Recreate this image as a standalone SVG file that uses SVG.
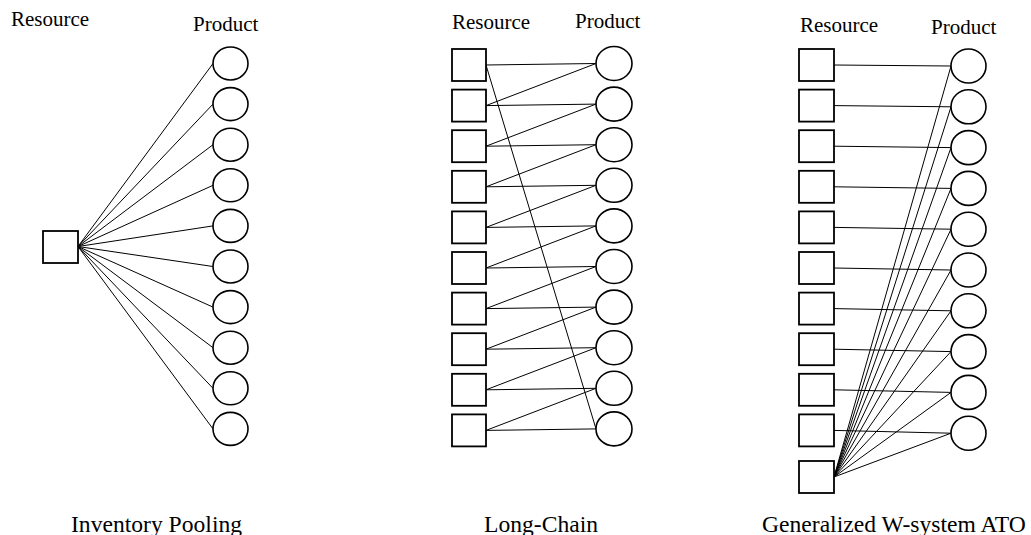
<svg xmlns="http://www.w3.org/2000/svg" width="1031" height="535" viewBox="0 0 1031 535">
  <style>
    .bg { fill: #ffffff; }
    .res { fill: #ffffff; stroke: #000000; stroke-width: 1.8; }
    .prod { fill: #ffffff; stroke: #000000; stroke-width: 1.6; }
    .edge { stroke: #000000; stroke-width: 1; fill: none; }
    .head { font-family: "Liberation Serif", "Times New Roman", serif; font-size: 21px; fill: #000000; }
    .title { font-family: "Liberation Serif", "Times New Roman", serif; font-size: 23.6px; fill: #000000; }
  </style>
  <rect class="bg" x="0" y="0" width="1031" height="535"/>

  <!-- Panel 1: Inventory Pooling -->
  <g id="pooling">
    <g id="pooling-connectors">
      <line class="edge" x1="78" y1="246.5" x2="213" y2="63.5"/>
      <line class="edge" x1="78" y1="246.5" x2="213" y2="104.1"/>
      <line class="edge" x1="78" y1="246.5" x2="213" y2="144.7"/>
      <line class="edge" x1="78" y1="246.5" x2="213" y2="185.3"/>
      <line class="edge" x1="78" y1="246.5" x2="213" y2="225.9"/>
      <line class="edge" x1="78" y1="246.5" x2="213" y2="266.5"/>
      <line class="edge" x1="78" y1="246.5" x2="213" y2="307.1"/>
      <line class="edge" x1="78" y1="246.5" x2="213" y2="347.7"/>
      <line class="edge" x1="78" y1="246.5" x2="213" y2="388.3"/>
      <line class="edge" x1="78" y1="246.5" x2="213" y2="428.9"/>
    </g>
    <g id="pooling-resource"><rect class="res" x="43" y="231" width="35" height="32"/></g>
    <g id="pooling-p1"><ellipse class="prod" cx="230.5" cy="63.5" rx="17.5" ry="16.5"/></g>
    <g id="pooling-p2"><ellipse class="prod" cx="230.5" cy="104.1" rx="17.5" ry="16.5"/></g>
    <g id="pooling-p3"><ellipse class="prod" cx="230.5" cy="144.7" rx="17.5" ry="16.5"/></g>
    <g id="pooling-p4"><ellipse class="prod" cx="230.5" cy="185.3" rx="17.5" ry="16.5"/></g>
    <g id="pooling-p5"><ellipse class="prod" cx="230.5" cy="225.9" rx="17.5" ry="16.5"/></g>
    <g id="pooling-p6"><ellipse class="prod" cx="230.5" cy="266.5" rx="17.5" ry="16.5"/></g>
    <g id="pooling-p7"><ellipse class="prod" cx="230.5" cy="307.1" rx="17.5" ry="16.5"/></g>
    <g id="pooling-p8"><ellipse class="prod" cx="230.5" cy="347.7" rx="17.5" ry="16.5"/></g>
    <g id="pooling-p9"><ellipse class="prod" cx="230.5" cy="388.3" rx="17.5" ry="16.5"/></g>
    <g id="pooling-p10"><ellipse class="prod" cx="230.5" cy="428.9" rx="17.5" ry="16.5"/></g>
    <text class="head" x="11" y="26">Resource</text>
    <text class="head" x="193" y="31">Product</text>
    <text class="title" x="71" y="532">Inventory Pooling</text>
  </g>

  <!-- Panel 2: Long-Chain -->
  <g id="longchain">
    <g id="longchain-connectors">
      <!-- resource k to product k -->
      <line class="edge" x1="486" y1="65" x2="596" y2="63.5"/>
      <line class="edge" x1="486" y1="105.6" x2="596" y2="104.1"/>
      <line class="edge" x1="486" y1="146.2" x2="596" y2="144.7"/>
      <line class="edge" x1="486" y1="186.8" x2="596" y2="185.3"/>
      <line class="edge" x1="486" y1="227.4" x2="596" y2="225.9"/>
      <line class="edge" x1="486" y1="268" x2="596" y2="266.5"/>
      <line class="edge" x1="486" y1="308.6" x2="596" y2="307.1"/>
      <line class="edge" x1="486" y1="349.2" x2="596" y2="347.7"/>
      <line class="edge" x1="486" y1="389.8" x2="596" y2="388.3"/>
      <line class="edge" x1="486" y1="430.4" x2="596" y2="428.9"/>
      <!-- resource k+1 to product k -->
      <line class="edge" x1="486" y1="105.6" x2="596" y2="63.5"/>
      <line class="edge" x1="486" y1="146.2" x2="596" y2="104.1"/>
      <line class="edge" x1="486" y1="186.8" x2="596" y2="144.7"/>
      <line class="edge" x1="486" y1="227.4" x2="596" y2="185.3"/>
      <line class="edge" x1="486" y1="268" x2="596" y2="225.9"/>
      <line class="edge" x1="486" y1="308.6" x2="596" y2="266.5"/>
      <line class="edge" x1="486" y1="349.2" x2="596" y2="307.1"/>
      <line class="edge" x1="486" y1="389.8" x2="596" y2="347.7"/>
      <line class="edge" x1="486" y1="430.4" x2="596" y2="388.3"/>
      <!-- closing link: first resource to last product -->
      <line class="edge" x1="486" y1="65" x2="596" y2="428.9"/>
    </g>
    <g id="longchain-r1"><rect class="res" x="452" y="49" width="34" height="32"/></g>
    <g id="longchain-r2"><rect class="res" x="452" y="89.6" width="34" height="32"/></g>
    <g id="longchain-r3"><rect class="res" x="452" y="130.2" width="34" height="32"/></g>
    <g id="longchain-r4"><rect class="res" x="452" y="170.8" width="34" height="32"/></g>
    <g id="longchain-r5"><rect class="res" x="452" y="211.4" width="34" height="32"/></g>
    <g id="longchain-r6"><rect class="res" x="452" y="252" width="34" height="32"/></g>
    <g id="longchain-r7"><rect class="res" x="452" y="292.6" width="34" height="32"/></g>
    <g id="longchain-r8"><rect class="res" x="452" y="333.2" width="34" height="32"/></g>
    <g id="longchain-r9"><rect class="res" x="452" y="373.8" width="34" height="32"/></g>
    <g id="longchain-r10"><rect class="res" x="452" y="414.4" width="34" height="32"/></g>
    <g id="longchain-p1"><ellipse class="prod" cx="614" cy="63.5" rx="18" ry="17"/></g>
    <g id="longchain-p2"><ellipse class="prod" cx="614" cy="104.1" rx="18" ry="17"/></g>
    <g id="longchain-p3"><ellipse class="prod" cx="614" cy="144.7" rx="18" ry="17"/></g>
    <g id="longchain-p4"><ellipse class="prod" cx="614" cy="185.3" rx="18" ry="17"/></g>
    <g id="longchain-p5"><ellipse class="prod" cx="614" cy="225.9" rx="18" ry="17"/></g>
    <g id="longchain-p6"><ellipse class="prod" cx="614" cy="266.5" rx="18" ry="17"/></g>
    <g id="longchain-p7"><ellipse class="prod" cx="614" cy="307.1" rx="18" ry="17"/></g>
    <g id="longchain-p8"><ellipse class="prod" cx="614" cy="347.7" rx="18" ry="17"/></g>
    <g id="longchain-p9"><ellipse class="prod" cx="614" cy="388.3" rx="18" ry="17"/></g>
    <g id="longchain-p10"><ellipse class="prod" cx="614" cy="428.9" rx="18" ry="17"/></g>
    <text class="head" x="452" y="29">Resource</text>
    <text class="head" x="575" y="27.5">Product</text>
    <text class="title" x="484" y="532">Long-Chain</text>
  </g>

  <!-- Panel 3: Generalized W-system ATO -->
  <g id="wsystem">
    <g id="wsystem-connectors">
      <!-- dedicated resource k to product k -->
      <line class="edge" x1="834" y1="65" x2="951" y2="66"/>
      <line class="edge" x1="834" y1="105.6" x2="951" y2="106.8"/>
      <line class="edge" x1="834" y1="146.2" x2="951" y2="147.6"/>
      <line class="edge" x1="834" y1="186.8" x2="951" y2="188.4"/>
      <line class="edge" x1="834" y1="227.4" x2="951" y2="229.2"/>
      <line class="edge" x1="834" y1="268" x2="951" y2="270"/>
      <line class="edge" x1="834" y1="308.6" x2="951" y2="310.8"/>
      <line class="edge" x1="834" y1="349.2" x2="951" y2="351.6"/>
      <line class="edge" x1="834" y1="389.8" x2="951" y2="392.4"/>
      <line class="edge" x1="834" y1="430.4" x2="951" y2="433.2"/>
      <!-- common resource to every product -->
      <line class="edge" x1="834" y1="477" x2="951" y2="66"/>
      <line class="edge" x1="834" y1="477" x2="951" y2="106.8"/>
      <line class="edge" x1="834" y1="477" x2="951" y2="147.6"/>
      <line class="edge" x1="834" y1="477" x2="951" y2="188.4"/>
      <line class="edge" x1="834" y1="477" x2="951" y2="229.2"/>
      <line class="edge" x1="834" y1="477" x2="951" y2="270"/>
      <line class="edge" x1="834" y1="477" x2="951" y2="310.8"/>
      <line class="edge" x1="834" y1="477" x2="951" y2="351.6"/>
      <line class="edge" x1="834" y1="477" x2="951" y2="392.4"/>
      <line class="edge" x1="834" y1="477" x2="951" y2="433.2"/>
    </g>
    <g id="wsystem-r1"><rect class="res" x="799" y="49" width="35" height="32"/></g>
    <g id="wsystem-r2"><rect class="res" x="799" y="89.6" width="35" height="32"/></g>
    <g id="wsystem-r3"><rect class="res" x="799" y="130.2" width="35" height="32"/></g>
    <g id="wsystem-r4"><rect class="res" x="799" y="170.8" width="35" height="32"/></g>
    <g id="wsystem-r5"><rect class="res" x="799" y="211.4" width="35" height="32"/></g>
    <g id="wsystem-r6"><rect class="res" x="799" y="252" width="35" height="32"/></g>
    <g id="wsystem-r7"><rect class="res" x="799" y="292.6" width="35" height="32"/></g>
    <g id="wsystem-r8"><rect class="res" x="799" y="333.2" width="35" height="32"/></g>
    <g id="wsystem-r9"><rect class="res" x="799" y="373.8" width="35" height="32"/></g>
    <g id="wsystem-r10"><rect class="res" x="799" y="414.4" width="35" height="32"/></g>
    <g id="wsystem-r11"><rect class="res" x="799" y="461" width="35" height="32"/></g>
    <g id="wsystem-p1"><ellipse class="prod" cx="968.5" cy="66" rx="17.5" ry="17"/></g>
    <g id="wsystem-p2"><ellipse class="prod" cx="968.5" cy="106.8" rx="17.5" ry="17"/></g>
    <g id="wsystem-p3"><ellipse class="prod" cx="968.5" cy="147.6" rx="17.5" ry="17"/></g>
    <g id="wsystem-p4"><ellipse class="prod" cx="968.5" cy="188.4" rx="17.5" ry="17"/></g>
    <g id="wsystem-p5"><ellipse class="prod" cx="968.5" cy="229.2" rx="17.5" ry="17"/></g>
    <g id="wsystem-p6"><ellipse class="prod" cx="968.5" cy="270" rx="17.5" ry="17"/></g>
    <g id="wsystem-p7"><ellipse class="prod" cx="968.5" cy="310.8" rx="17.5" ry="17"/></g>
    <g id="wsystem-p8"><ellipse class="prod" cx="968.5" cy="351.6" rx="17.5" ry="17"/></g>
    <g id="wsystem-p9"><ellipse class="prod" cx="968.5" cy="392.4" rx="17.5" ry="17"/></g>
    <g id="wsystem-p10"><ellipse class="prod" cx="968.5" cy="433.2" rx="17.5" ry="17"/></g>
    <text class="head" x="800" y="31.5">Resource</text>
    <text class="head" x="931" y="34">Product</text>
    <text class="title" x="762" y="532" font-size="23.2">Generalized W-system ATO</text>
  </g>
</svg>
